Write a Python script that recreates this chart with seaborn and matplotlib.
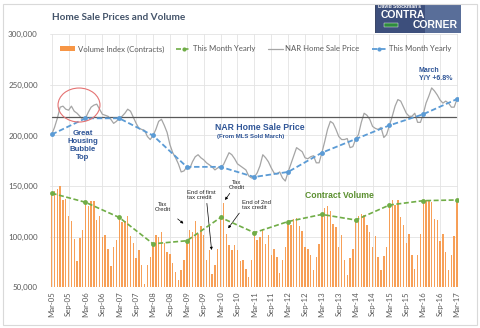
import numpy as np
import pandas as pd
import matplotlib
matplotlib.use("Agg")
import matplotlib.pyplot as plt
from matplotlib.patches import Ellipse, Rectangle, Patch
from matplotlib.lines import Line2D
import seaborn as sns

sns.set_theme(style="white")
plt.rcParams["font.family"] = ["Lato", "DejaVu Sans"]

# x-axis labels every six months (Mar-05 .. Mar-17)
tick_labels = ["Mar-05", "Sep-05", "Mar-06", "Sep-06", "Mar-07", "Sep-07",
               "Mar-08", "Sep-08", "Mar-09", "Sep-09", "Mar-10", "Sep-10",
               "Mar-11", "Sep-11", "Mar-12", "Sep-12", "Mar-13", "Sep-13",
               "Mar-14", "Sep-14", "Mar-15", "Sep-15", "Mar-16", "Sep-16",
               "Mar-17"]

# Monthly contract volume index (thousands), Mar-05 .. Mar-17
volume_k = [
    143, 145.5, 147, 150, 136, 137, 120, 116, 98, 76, 98.6, 106.5,
    134, 130, 135, 135, 116.5, 120, 100, 101.6, 88, 71, 90, 96.6,
    119, 115, 116, 120, 101, 94, 78.5, 86.7, 71.8, 53.6, 71.8, 79.5,
    93, 102, 100, 105, 94, 85, 83, 74, 65, 57, 67, 77,
    96, 106.5, 105, 116, 103, 110.5, 101.6, 77, 86.7, 63.6, 72, 88,
    119, 133, 103, 92, 87, 92, 87, 76, 77, 68.5, 60, 77,
    104, 97, 100, 108, 93, 101.6, 82, 88, 80, 64, 77, 90,
    115, 112, 117, 118, 111, 106, 90, 88, 82, 67, 80, 93,
    122, 128, 130, 125, 113, 110, 90, 102, 77, 62, 78.5, 88,
    116.5, 120, 122, 121, 111.5, 105, 90, 100.6, 79.5, 67, 80.7, 90,
    131.3, 136.3, 131.3, 136.3, 119.7, 111.5, 93.4, 103, 81.7, 68.5, 81.7, 103,
    135.6, 136, 136, 134.6, 117.5, 116.5, 95.6, 103, 85, 67, 81.7, 100.6,
    136.3,
]

# NAR median home sale price (thousands of dollars), Mar-05 .. Mar-17
price_k = [
    201, 208, 217, 228, 229, 226, 225, 229, 224, 222, 219, 216,
    217, 223, 228, 230, 231, 226, 221, 220, 219, 216, 212, 214,
    217, 219, 222, 226, 224, 218, 212, 207, 206, 205, 199, 196,
    200, 206, 214, 216, 210, 203, 191, 183, 178, 172, 164, 165,
    169, 167, 174, 179, 181, 178, 176, 173, 171, 169, 166, 168,
    169, 171, 177, 183, 181, 177, 172, 170, 168, 166, 160, 158,
    159, 163, 170, 181, 178, 174, 168, 163, 162, 164, 158, 155,
    164, 172, 180, 188, 186, 184, 178, 177, 179, 180, 173, 173,
    183, 194, 206, 214, 212, 206, 199, 196, 196, 197, 188, 189,
    196.5, 201, 213, 222, 220, 216, 209, 207, 206, 208, 198, 201,
    210, 219, 229, 235.5, 234, 228, 222, 219, 219, 222, 213, 213,
    221, 232, 239, 247, 244, 240, 235, 232, 234, 232, 228, 228,
    236,
]

bubble_level = 218000

ORANGE = "#F79646"
GREEN = "#70AD47"
BLUE = "#5B9BD5"
GRAY = "#A5A5A5"
NAVY = "#2F5597"
TXT = "#595959"

df = pd.DataFrame({
    "month": np.arange(len(volume_k)),
    "volume": np.array(volume_k) * 1000,
    "price": np.array(price_k) * 1000,
})
march = df[df["month"] % 12 == 0]

fig = plt.figure(figsize=(4.8, 3.28), dpi=100)
fig.patch.set_facecolor("white")
ax = fig.add_axes([50.3 / 480, 40.7 / 328, 408.1 / 480, 253 / 328])

# outer chart frame
fig.patches.append(Rectangle((3 / 480, 3 / 328), 474 / 480, 321 / 328,
                             transform=fig.transFigure, fill=False,
                             edgecolor="#D9D9D9", lw=0.8))

sns.barplot(data=df, x="month", y="volume", native_scale=True, width=0.5,
            color=ORANGE, saturation=1, errorbar=None, ax=ax, zorder=2,
            edgecolor="none", linewidth=0, alpha=0.9)

sns.lineplot(data=df, x="month", y="price", color=GRAY, lw=0.9, ax=ax, zorder=3)
sns.lineplot(data=march, x="month", y="volume", color=GREEN, lw=1.2,
             linestyle=(0, (3, 1.5)), marker="o", markersize=3.5,
             markeredgewidth=0, ax=ax, zorder=4)
sns.lineplot(data=march, x="month", y="price", color=BLUE, lw=1.3,
             linestyle=(0, (3, 1.5)), marker="o", markersize=3.5,
             markeredgewidth=0, ax=ax, zorder=4)

ax.axhline(bubble_level, xmin=0.004, xmax=0.995, color="#595959", lw=0.9, zorder=3)

ax.set_xlim(-0.5, 144.5)
ax.set_ylim(50000, 300000)
ax.set_xticks(np.arange(0, 145, 6))
ax.set_xticklabels(tick_labels, rotation=90, fontsize=5.6, color=TXT)
ax.set_yticks(np.arange(50000, 300001, 50000))
ax.set_yticklabels([f"{v:,}" for v in range(50000, 300001, 50000)],
                   fontsize=5.8, color=TXT)
ax.tick_params(axis="both", length=0, pad=3)
ax.tick_params(axis="y", pad=9)
ax.set_xlabel("")
ax.set_ylabel("")
for s in ax.spines.values():
    s.set_visible(False)
ax.grid(True, color="#E3E3E3", lw=0.6, zorder=0)
ax.set_axisbelow(True)

# title
fig.text(52 / 480, 1 - 18 / 328, "Home Sale Prices and Volume", fontsize=7.2,
         fontweight="bold", color="#44546A", va="center", ha="left")

# legend
handles = [
    Patch(facecolor=ORANGE, edgecolor="none"),
    Line2D([], [], color=GREEN, lw=1.2, linestyle=(0, (3, 1.5)), marker="o",
           markersize=3, markeredgewidth=0),
    Line2D([], [], color=GRAY, lw=0.9),
    Line2D([], [], color=BLUE, lw=1.3, linestyle=(0, (3, 1.5)), marker="o",
           markersize=3, markeredgewidth=0),
]
labels = ["Volume Index (Contracts)", "This Month Yearly", "NAR Home Sale Price",
          "This Month Yearly"]
leg = ax.legend(handles, labels, loc="center", bbox_to_anchor=(0.504, 0.942),
                ncol=4, frameon=False, fontsize=5.6, handlelength=1.9,
                handleheight=0.5, handletextpad=0.3, columnspacing=1.6,
                labelcolor=TXT)

# annotations
bold_ann = dict(fontweight="bold", family=["Liberation Sans", "DejaVu Sans"])
small_ann = dict(family=["Liberation Sans", "DejaVu Sans"], color="#262626",
                 fontsize=4.3, linespacing=1.05)

ax.add_patch(Ellipse((9.7, 230100), 14.9, 33600, fill=False,
                     edgecolor="#E57373", lw=0.8, zorder=5))
ax.text(11.1, 190100, "Great\nHousing\nBubble\nTop", ha="center", va="center",
        fontsize=5.6, color=NAVY, linespacing=1.25, **bold_ann)
ax.text(74, 208100, "NAR Home Sale Price", ha="center", va="center",
        fontsize=6.2, color=NAVY, **bold_ann)
ax.text(70.8, 199500, "(From MLS Sold March)", ha="center", va="center",
        fontsize=4.3, color=NAVY, **bold_ann)
ax.text(130.5, 259800, "March\nY/Y +6.8%", ha="left", va="center",
        fontsize=5.0, color=NAVY, linespacing=1.2, **bold_ann)
ax.text(90, 140500, "Contract Volume", ha="left", va="center",
        fontsize=6.2, color="#5A8F2E", **bold_ann)

arrow = dict(arrowstyle="-|>,head_length=0.35,head_width=0.18", color="black", lw=0.5)
ax.annotate("Tax\nCredit", xy=(46.8, 113000), xytext=(39.5, 129300),
            ha="center", va="center", arrowprops=dict(arrow, shrinkA=4, shrinkB=0),
            **small_ann)
ax.annotate("End of first\ntax credit", xy=(56.8, 86900), xytext=(48.1, 141200),
            ha="left", va="center", arrowprops=dict(arrow, shrinkA=0, shrinkB=0,
                                                    relpos=(0.68, 0.0)),
            **small_ann)
ax.annotate("Tax\nCredit", xy=(61.6, 136300), xytext=(65.8, 151100),
            ha="center", va="center", arrowprops=dict(arrow, shrinkA=0, shrinkB=0,
                                                      relpos=(0.2, 0.0)),
            **small_ann)
ax.annotate("End of 2nd\ntax credit", xy=(62.7, 108300), xytext=(67.5, 131600),
            ha="left", va="center", arrowprops=dict(arrow, shrinkA=0, shrinkB=0,
                                                    relpos=(0.0, 0.0)),
            **small_ann)

# masthead badge in the top-right corner
badge = fig.add_axes([375 / 480, 1 - 33 / 328, 86 / 480, 29 / 328])
badge.set_xlim(0, 86)
badge.set_ylim(0, 29)
badge.axis("off")
badge.add_patch(Rectangle((0, 0), 86, 29, facecolor="#3D4F7C", edgecolor="#2A3556", lw=0.6))
badge.add_patch(Rectangle((50, 0), 36, 29, facecolor="#6D83AD", edgecolor="none", alpha=0.6))
badge.add_patch(Rectangle((9, 6.5), 14, 4, facecolor="#2E8B3E", edgecolor="white", lw=0.3))
badge.text(3, 26.5, "David Stockman's", fontsize=3.6, color="white", fontweight="bold",
           va="center", ha="left", family=["Liberation Sans", "DejaVu Sans"])
badge.text(6, 17.5, "CONTRA", fontsize=7.5, color="white", fontweight="bold",
           va="center", ha="left", family=["Liberation Sans", "DejaVu Sans"])
badge.text(83, 7.5, "CORNER", fontsize=7.5, color="white", fontweight="bold",
           va="center", ha="right", family=["Liberation Sans", "DejaVu Sans"])

fig.savefig("out.png", dpi=100, facecolor="white")
